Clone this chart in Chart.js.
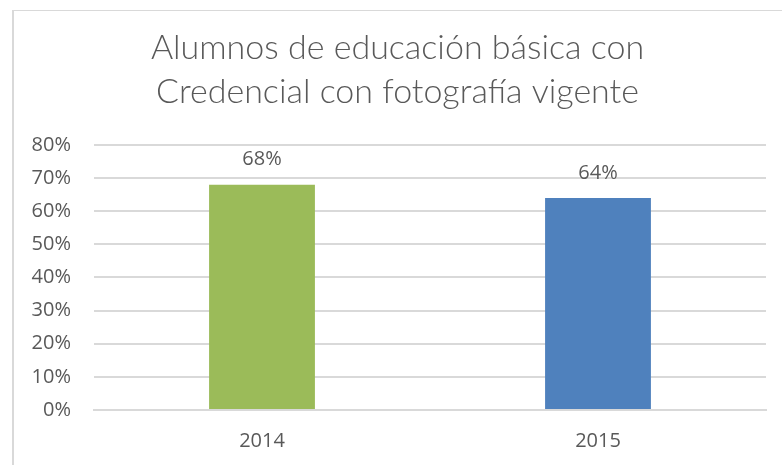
<!DOCTYPE html>
<html>
<head>
<meta charset="utf-8">
<script src="https://cdn.jsdelivr.net/npm/chart.js@4.4.0/dist/chart.umd.min.js"></script>
<style>
  html, body { margin: 0; padding: 0; background: #fff; }
  #frame {
    position: absolute; left: 12px; top: 10px; width: 770px; height: 455px;
    border-top: 1px solid #d9d9d9; border-left: 2px solid #d9d9d9;
  }
  #wrap { position: absolute; left: 0; top: 0; width: 768px; height: 454px; }
</style>
</head>
<body>
<div id="frame"><div id="wrap"><canvas id="myChart"></canvas></div></div>
<script>
// data
const categories = ['2014', '2015'];
const values = [0.68, 0.64];
const barColors = ['#9bbb59', '#4f81bd'];
const titleLines = ['Alumnos de educación básica con', 'Credencial con fotografía vigente'];

const textColor = '#595959';
const gridColor = '#d9d9d9';

const pct = v => Math.round(v * 100) + '%';

// labels over the bars
const barLabels = {
    id: 'barLabels',
    afterDatasetsDraw(chart) {
        const ctx = chart.ctx;
        const meta = chart.getDatasetMeta(0);
        ctx.save();
        ctx.font = '20px "Open Sans"';
        ctx.fillStyle = textColor;
        ctx.textAlign = 'center';
        ctx.textBaseline = 'middle';
        meta.data.forEach((bar, i) => {
            ctx.fillText(pct(values[i]), bar.x, bar.y - 25);
        });
        ctx.restore();
    }
};

let ctx = document.getElementById('myChart').getContext('2d');
let myChart = new Chart(ctx, {
    type: 'bar',
    data: {
        labels: categories,
        datasets: [{
            data: values,
            backgroundColor: barColors,
            borderWidth: 0,
            categoryPercentage: 1,
            barPercentage: 0.315
        }]
    },
    options: {
        responsive: true,
        maintainAspectRatio: false,
        animation: false,
        layout: { padding: { left: 15, right: 16, top: 0, bottom: 0 } },
        plugins: {
            legend: { display: false },
            tooltip: { enabled: false },
            title: {
                display: true,
                text: titleLines,
                color: textColor,
                font: { family: 'Lato', size: 34, weight: '300', lineHeight: 1.294 },
                padding: { top: 15, bottom: 31 }
            }
        },
        scales: {
            x: {
                grid: { display: false, drawTicks: false },
                border: { display: true, color: gridColor, width: 2 },
                ticks: { color: textColor, font: { family: 'Open Sans', size: 20 }, padding: 19 },
                afterFit: s => { s.height = 55; }
            },
            y: {
                min: 0,
                max: 0.8,
                grid: { color: gridColor, lineWidth: 2, drawTicks: false },
                border: { display: false },
                ticks: {
                    stepSize: 0.1,
                    color: textColor,
                    font: { family: 'Open Sans', size: 20 },
                    padding: 23,
                    callback: v => pct(v)
                },
                afterFit: s => { s.width = 65; }
            }
        }
    },
    plugins: [barLabels]
});
</script>
</body>
</html>
